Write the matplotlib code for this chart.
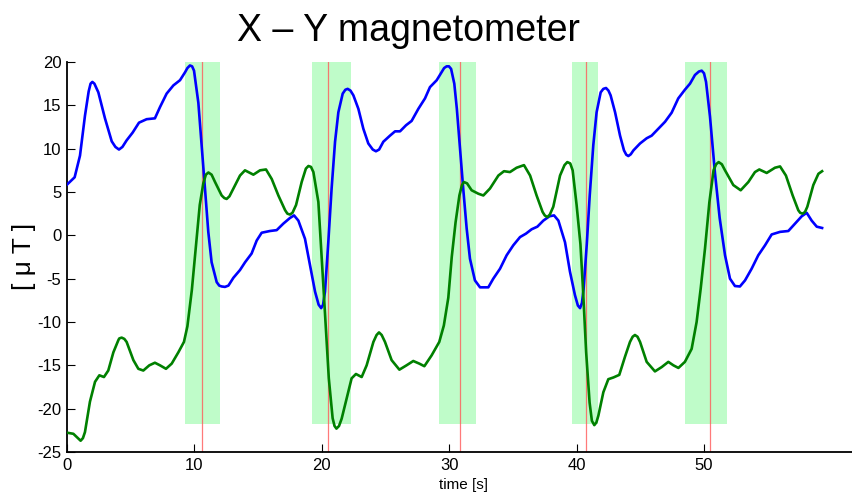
import matplotlib
matplotlib.use("Agg")
import matplotlib.pyplot as plt

plt.rcParams['font.family'] = ['Liberation Sans', 'DejaVu Sans']
plt.rcParams['axes.unicode_minus'] = False

# X component (blue)
x_time = [0.0, 0.6, 1.02, 1.41, 1.7, 1.85, 1.99, 2.15, 2.46, 2.98, 3.51, 3.8, 4.08, 4.35, 4.68,
          5.15, 5.65, 6.25, 6.9, 7.3, 7.82, 8.35, 8.87, 9.26, 9.45, 9.65, 9.82, 9.97, 10.31, 10.57,
          10.83, 11.09, 11.35, 11.75, 11.95, 12.14, 12.4, 12.67, 13.06, 13.58, 13.98, 14.49, 14.89,
          15.28, 15.93, 16.46, 16.98, 17.5, 17.82, 18.16, 18.68, 19.08, 19.47, 19.75, 19.95, 20.1,
          20.25, 20.51, 20.77, 21.04, 21.3, 21.64, 21.85, 22.03, 22.25, 22.48, 22.87, 23.26, 23.65,
          24.0, 24.25, 24.5, 24.83, 25.35, 25.75, 26.14, 26.61, 27.05, 27.58, 28.1, 28.49, 29.02,
          29.41, 29.6, 29.8, 29.98, 30.15, 30.4, 30.6, 30.85, 31.1, 31.37, 31.63, 32.02, 32.42,
          33.07, 33.46, 33.99, 34.51, 35.03, 35.56, 36.03, 36.47, 36.92, 37.39, 37.87, 38.23,
          38.57, 39.09, 39.48, 39.87, 40.1, 40.27, 40.42, 40.55, 40.8, 41.03, 41.31, 41.57, 41.89,
          42.1, 42.31, 42.5, 42.67, 43.02, 43.41, 43.72, 43.9, 44.06, 44.25, 44.46, 44.98, 45.5,
          45.89, 46.41, 46.94, 47.46, 47.98, 48.5, 48.9, 49.29, 49.6, 49.82, 50.0, 50.16, 50.47,
          50.86, 51.23, 51.65, 52.04, 52.43, 52.82, 53.22, 53.74, 54.26, 54.79, 55.31, 55.97,
          56.62, 57.14, 57.67, 58.06, 58.45, 58.85, 59.27]
x_val = [5.85, 6.7, 9.2, 13.8, 16.6, 17.5, 17.7, 17.5, 16.5, 13.5, 10.85, 10.2, 9.9, 10.2, 10.96,
         11.85, 13.0, 13.4, 13.5, 14.8, 16.35, 17.3, 17.9, 18.8, 19.3, 19.6, 19.5, 19.0, 15.3, 10.4,
         5.4, 0.4, -3.1, -5.4, -5.8, -5.9, -5.95, -5.8, -4.9, -4.0, -3.1, -2.1, -0.6,
         0.3, 0.5, 0.6, 1.35, 2.0, 2.3, 1.7, -0.4, -3.5, -6.5, -8.0, -8.4, -8.0,
         -6.5, -0.8, 5.4, 10.8, 14.2, 16.35, 16.8, 16.9, 16.7, 16.15, 14.6, 12.3, 10.6,
         9.9, 9.7, 9.9, 10.8, 11.5, 12.0, 12.0, 12.7, 13.2, 14.6, 15.8, 17.1, 17.9,
         18.85, 19.3, 19.5, 19.5, 19.2, 17.5, 14.6, 10.0, 5.4, 0.8, -2.7, -5.2, -6.0,
         -6.0, -5.0, -3.85, -2.3, -1.15, -0.2, 0.2, 0.7, 1.0, 1.7, 2.2, 2.3,
         1.7, -0.8, -4.2, -6.9, -8.1, -8.4, -7.8, -6.2, -1.0, 4.6, 10.4, 14.2, 16.5,
         16.9, 17.0, 16.7, 16.15, 14.2, 11.5, 9.8, 9.3, 9.15, 9.35, 9.8, 10.6, 11.2,
         11.5, 12.3, 13.1, 14.15, 15.8, 16.8, 17.5, 18.5, 18.9, 19.0, 18.7, 17.7, 13.7,
         7.2, 2.0, -2.3, -5.0, -5.85, -5.9, -5.2, -3.85, -2.3, -1.15, 0.1, 0.4,
         0.5, 1.35, 2.2, 2.6, 1.7, 1.0, 0.85]

# Y component (green)
y_time = [0.0, 0.5, 0.85, 1.07, 1.25, 1.41, 1.8, 2.2, 2.54, 2.9, 3.24, 3.64, 4.03, 4.1, 4.29,
          4.5, 4.68, 5.21, 5.6, 5.99, 6.46, 6.9, 7.3, 7.77, 8.22, 8.74, 9.18, 9.45, 9.8, 10.1,
          10.42, 10.7, 10.9, 11.1, 11.35, 11.62, 12.14, 12.35, 12.53, 12.75, 13.06, 13.58, 13.97,
          14.63, 15.15, 15.62, 16.07, 16.59, 17.12, 17.3, 17.5, 17.7, 17.98, 18.42, 18.75, 18.95,
          19.15, 19.34, 19.73, 19.95, 20.15, 20.35, 20.55, 20.85, 21.0, 21.15, 21.35, 21.56,
          21.95, 22.34, 22.68, 23.13, 23.52, 24.05, 24.3, 24.49, 24.7, 24.96, 25.48, 26.09,
          26.65, 27.18, 27.65, 28.05, 28.62, 29.22, 29.58, 29.93, 30.2, 30.5, 30.8, 31.0,
          31.15, 31.4, 31.76, 32.29, 32.68, 33.2, 33.86, 34.3, 34.77, 35.29, 35.87, 36.35,
          36.86, 37.33, 37.5, 37.7, 37.9, 38.17, 38.7, 39.05, 39.27, 39.5, 39.69, 40.0, 40.3,
          40.5, 40.75, 41.02, 41.2, 41.39, 41.55, 41.71, 42.1, 42.49, 42.89, 43.35, 43.8,
          44.19, 44.4, 44.58, 44.78, 44.98, 45.5, 46.15, 46.68, 47.2, 47.6, 47.99, 48.5,
          49.03, 49.42, 49.74, 50.08, 50.42, 50.75, 50.95, 51.15, 51.4, 51.65, 52.3, 52.88,
          53.48, 54.0, 54.34, 54.92, 55.57, 55.97, 56.43, 56.96, 57.4, 57.55, 57.74, 57.93,
          58.11, 58.58, 58.98, 59.27]
y_val = [-22.77, -22.9, -23.4, -23.7, -23.4, -22.7, -19.2, -16.9, -16.15, -16.35, -15.6, -13.5,
         -12.1, -11.9, -11.8, -11.95, -12.3, -14.4, -15.4, -15.6, -15.0, -14.7, -15.0, -15.4,
         -14.8, -13.5, -12.3, -10.5, -6.3, -1.5, 3.5, 6.0, 7.0, 7.25, 7.0, 6.15, 4.6, 4.3, 4.2,
         4.5, 5.4, 6.9, 7.5, 7.0, 7.5, 7.6, 6.5, 4.6, 2.9, 2.5, 2.4, 2.6, 3.5, 6.15, 7.7, 8.0,
         7.9, 7.3, 3.85, -1.5, -6.5, -11.5, -16.5, -21.1, -22.0, -22.3, -22.0, -21.15,
         -18.85, -16.5, -16.0, -16.35, -15.0, -12.3, -11.5, -11.2, -11.5, -12.3, -14.4, -15.5,
         -15.0, -14.5, -14.8, -15.1, -13.85, -12.3, -10.4, -7.2, -2.5, 1.5, 4.6, 5.8,
         6.15, 6.0, 5.2, 4.8, 4.6, 5.4, 6.9, 7.4, 7.3, 7.8, 8.1, 6.9,
         4.6, 2.7, 2.3, 2.1, 2.4, 3.3, 6.9, 8.1, 8.45, 8.3, 7.5, 3.5, -1.0,
         -6.15, -13.5, -19.3, -21.4, -21.9, -21.6, -20.8, -18.1, -16.6, -16.4, -16.1, -14.0,
         -12.3, -11.7, -11.5, -11.7, -12.3, -14.6, -15.7, -15.2, -14.6, -15.0, -15.3, -14.6,
         -13.1, -10.0, -6.15, -1.5, 3.8, 7.5, 8.2, 8.45, 8.2, 7.5, 5.8, 5.2,
         6.15, 7.3, 7.6, 7.2, 7.8, 7.95, 6.9, 4.6, 2.9, 2.6, 2.5, 2.7,
         3.3, 5.8, 7.1, 7.4]

# highlighted windows and event markers
span_start = [9.26, 19.2, 29.2, 39.64, 48.5]
span_end = [12.0, 22.26, 32.08, 41.66, 51.78]
span_low, span_high = -21.8, 20.4
events = [10.62, 20.46, 30.87, 40.76, 50.47]

fig = plt.figure(figsize=(8.53, 4.94), dpi=100)
ax = fig.add_axes([67 / 853, 1 - 452 / 494, 1 - 67 / 853, 390 / 494])

for a, b in zip(span_start, span_end):
    ax.fill_between([a, b], span_low, span_high, color=(0.75, 0.99, 0.79), lw=0, zorder=1)
for e in events:
    ax.plot([e, e], [-25, 20], color=(1.0, 0.35, 0.35), lw=0.9, alpha=0.8, zorder=2)

ax.plot(x_time, x_val, color="blue", lw=1.9, solid_joinstyle="round", zorder=3)
ax.plot(y_time, y_val, color="green", lw=1.9, solid_joinstyle="round", zorder=3)

ax.set_xlim(0, (853 - 67) / 12.74)
ax.set_ylim(-25, 20)
ax.set_xticks([0, 10, 20, 30, 40, 50])
ax.set_yticks([-25, -20, -15, -10, -5, 0, 5, 10, 15, 20])
ax.tick_params(direction="in", length=6, width=0.8, labelsize=12, pad=4)
for s in ["top", "right"]:
    ax.spines[s].set_visible(False)
for s in ["left", "bottom"]:
    ax.spines[s].set_linewidth(1.3)

fig.text(408 / 853, 1 - 41 / 494, "X \u2013 Y magnetometer", fontsize=27, ha="center", va="baseline")
fig.text(24 / 853, 1 - 256 / 494, "[ \u03bc T ]", fontsize=19, rotation=90, ha="center", va="center")
fig.text(464 / 853, 1 - 485 / 494, "time [s]", fontsize=11, ha="center", va="center")

fig.savefig("out.png", dpi=100)
